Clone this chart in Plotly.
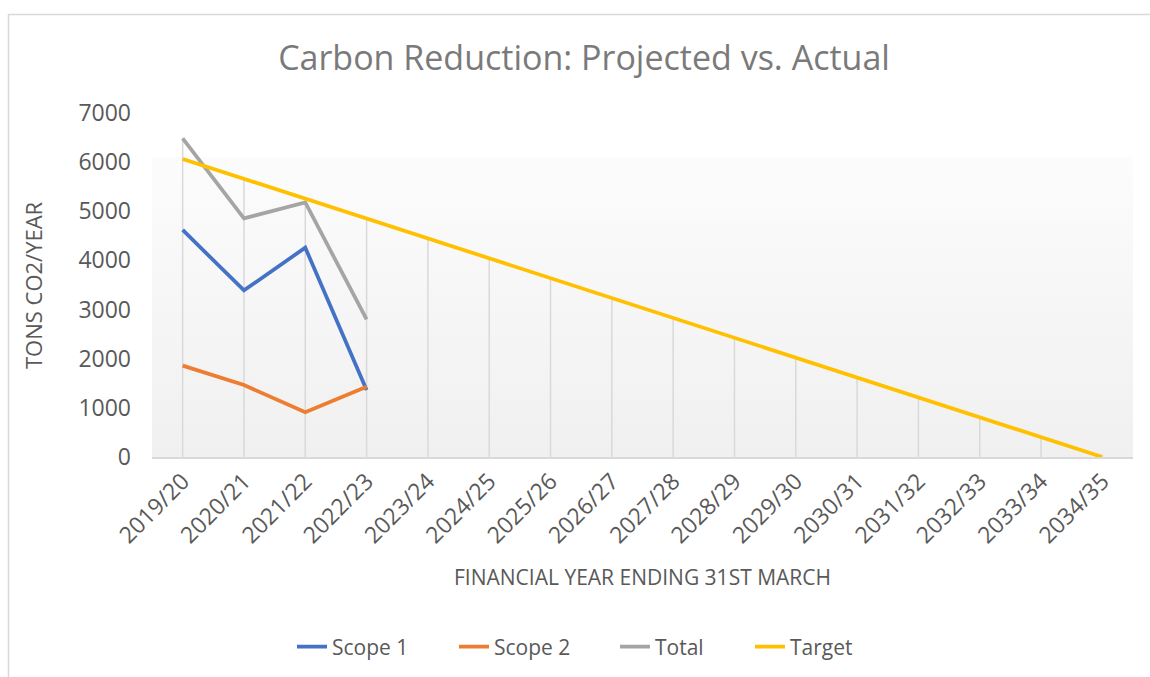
import base64
import plotly.graph_objects as go

years = ["2019/20", "2020/21", "2021/22", "2022/23", "2023/24", "2024/25", "2025/26",
         "2026/27", "2027/28", "2028/29", "2029/30", "2030/31", "2031/32", "2032/33",
         "2033/34", "2034/35"]
scope1 = [4620, 3390, 4260, 1365]
scope2 = [1860, 1465, 910, 1430]
total = [6485, 4855, 5180, 2800]
target = [6065, 5660, 5255, 4850, 4445, 4040, 3635, 3235, 2830, 2425, 2020, 1615,
          1210, 810, 405, 0]
y_ticks = [0, 1000, 2000, 3000, 4000, 5000, 6000, 7000]

FONT = "Open Sans"
TXT = "#595959"

fig = go.Figure()

# drop lines: from axis up to the highest series value in each category
drop_x, drop_y = [], []
for i, cat in enumerate(years):
    vals = [s[i] for s in (scope1, scope2, total, target) if i < len(s)]
    drop_x += [cat, cat, None]
    drop_y += [0, max(vals), None]
fig.add_trace(go.Scatter(x=drop_x, y=drop_y, mode="lines",
                         line=dict(color="#d9d9d9", width=1.5),
                         showlegend=False, hoverinfo="skip"))

series = [("Scope 1", scope1, "#4472C4", 117), ("Scope 2", scope2, "#ED7D31", 116),
          ("Total", total, "#A5A5A5", 90), ("Target", target, "#FFC000", 70)]
for name, vals, col, lw in series:
    fig.add_trace(go.Scatter(x=years[:len(vals)], y=vals, mode="lines", name=name,
                             legendwidth=lw, line=dict(color=col, width=3.75)))

svg = ("<svg xmlns='http://www.w3.org/2000/svg' width='100' height='100' "
       "preserveAspectRatio='none'><defs><linearGradient id='g' x1='0' y1='0' x2='0' y2='1'>"
       "<stop offset='0' stop-color='#fcfcfc'/><stop offset='1' stop-color='#f0f0f0'/>"
       "</linearGradient></defs><rect width='100' height='100' fill='url(#g)'/></svg>")
src = "data:image/svg+xml;base64," + base64.b64encode(svg.encode()).decode()

W, H = 1150, 677
L, R, T, B = 152, 17, 113, 220
pw, ph = W - L - R, H - T - B


def px_x(x):
    return (x - L) / pw


def px_y(y):
    return (H - B - y) / ph


fig.update_layout(
    width=W, height=H,
    margin=dict(l=L, r=R, t=T, b=B, autoexpand=False),
    paper_bgcolor="white", plot_bgcolor="rgba(0,0,0,0)",
    font=dict(family=FONT, color=TXT),
    title=dict(text="Carbon Reduction: Projected vs. Actual", x=584 / W, xanchor="center",
               y=1 - 58 / H, yanchor="middle",
               font=dict(family=FONT, size=34, color="#7a7a7a")),
    xaxis=dict(type="category", categoryorder="array", categoryarray=years,
               range=[-0.5, len(years) - 0.5], showgrid=False, zeroline=False,
               showline=True, linecolor="#d9d9d9", linewidth=1.5, ticks="",
               tickangle=-45, tickfont=dict(size=23, color=TXT)),
    yaxis=dict(range=[0, 7000], tickvals=y_ticks, showgrid=False, zeroline=False,
               showline=False, ticks="", ticklabelstandoff=20,
               tickfont=dict(size=23, color=TXT)),
    legend=dict(orientation="h", x=px_x(292), xanchor="left", y=px_y(647),
                yanchor="middle", font=dict(size=21, color=TXT), bgcolor="rgba(0,0,0,0)"),
    images=[dict(source=src, xref="paper", yref="paper", x=0, y=px_y(157),
                 sizex=1, sizey=px_y(157), xanchor="left", yanchor="top",
                 sizing="stretch", layer="below")],
    shapes=[dict(type="rect", xref="paper", yref="paper", x0=px_x(8.5), x1=px_x(1170),
                 y0=px_y(700), y1=px_y(14.5), line=dict(color="#d9d9d9", width=1.5),
                 layer="below")],
    annotations=[
        dict(text="FINANCIAL YEAR ENDING 31ST MARCH", xref="paper", yref="paper",
             x=0.5, y=px_y(577), xanchor="center", yanchor="middle", showarrow=False,
             font=dict(size=21, color=TXT)),
        dict(text="TONS CO2/YEAR", xref="paper", yref="paper", x=px_x(33), y=0.5,
             xanchor="center", yanchor="middle", textangle=-90, showarrow=False,
             font=dict(size=22, color=TXT)),
    ],
)

fig.write_html("out.html", config={"displayModeBar": False},
               post_script="document.body.style.margin='0';")
